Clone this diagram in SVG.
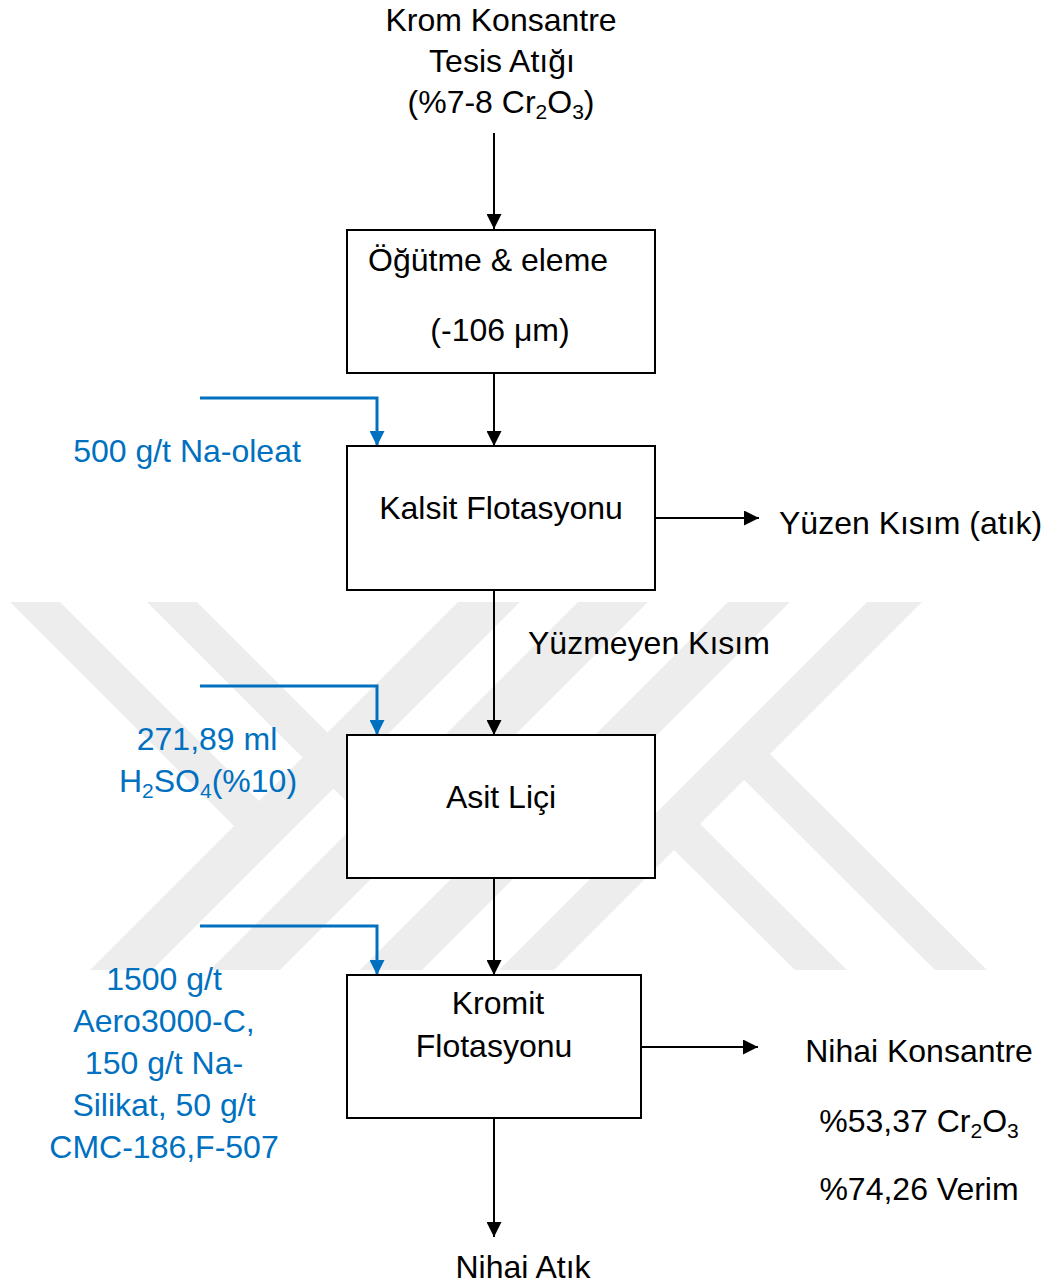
<svg xmlns="http://www.w3.org/2000/svg" width="1048" height="1285" viewBox="0 0 1048 1285">
<style>
.t{font-family:"Liberation Sans",Arial,sans-serif;font-size:32px;fill:#000}
.b{font-family:"Liberation Sans",Arial,sans-serif;font-size:32px;fill:#0070C0}
.sub{font-size:21px}
.box{fill:#fff;stroke:#000;stroke-width:2}
.ln{fill:none;stroke:#000;stroke-width:2}
.bl{fill:none;stroke:#0070C0;stroke-width:3}
.wm{fill:#ededed}
</style>
<defs>
<marker id="ah" viewBox="0 0 16 16" refX="16" refY="8" markerWidth="16" markerHeight="15" markerUnits="userSpaceOnUse" orient="auto">
<path d="M0,0 L16,8 L0,16 z" fill="#000"/>
</marker>
<marker id="ahb" viewBox="0 0 16 16" refX="16" refY="8" markerWidth="16" markerHeight="15" markerUnits="userSpaceOnUse" orient="auto">
<path d="M0,0 L16,8 L0,16 z" fill="#0070C0"/>
</marker>
</defs>
<rect x="0" y="0" width="1048" height="1285" fill="#fff"/>
<g id="watermark" class="wm">
<polygon points="10,602 60,602 274,816 249,841"/>
<polygon points="147,602 197,602 408,813 383,838"/>
<polygon points="458,602 520,602 152,970 90,970"/>
<polygon points="578,602 648,602 280,970 210,970"/>
<polygon points="728,602 790,602 422,970 360,970"/>
<polygon points="867,602 922,602 554,970 499,970"/>
<polygon points="756,740 987,970 935,970 730,766"/>
<polygon points="686,810 847,970 795,970 660,836"/>
</g>
<g id="connectors">
<line class="ln" x1="494" y1="133" x2="494" y2="229" marker-end="url(#ah)"/>
<line class="ln" x1="494" y1="373" x2="494" y2="446" marker-end="url(#ah)"/>
<line class="ln" x1="494" y1="590" x2="494" y2="735" marker-end="url(#ah)"/>
<line class="ln" x1="494" y1="878" x2="494" y2="975" marker-end="url(#ah)"/>
<line class="ln" x1="494" y1="1118" x2="494" y2="1237" marker-end="url(#ah)"/>
<line class="ln" x1="655" y1="518" x2="759" y2="518" marker-end="url(#ah)"/>
<line class="ln" x1="641" y1="1047" x2="758" y2="1047" marker-end="url(#ah)"/>
<polyline class="bl" points="200,398 377,398 377,446" marker-end="url(#ahb)"/>
<polyline class="bl" points="200,686 377,686 377,735" marker-end="url(#ahb)"/>
<polyline class="bl" points="200,926 377,926 377,975" marker-end="url(#ahb)"/>
</g>
<g id="source">
<text class="t" x="501" y="31" text-anchor="middle">Krom Konsantre</text>
<text class="t" x="502" y="72" text-anchor="middle">Tesis Atığı</text>
<text class="t" x="501" y="113" text-anchor="middle">(%7-8 Cr<tspan class="sub" dy="6">2</tspan><tspan dy="-6">O</tspan><tspan class="sub" dy="6">3</tspan><tspan dy="-6">)</tspan></text>
</g>
<g id="ogutme">
<rect class="box" x="347" y="230" width="308" height="143"/>
<text class="t" x="368" y="271">Öğütme &amp; eleme</text>
<text class="t" x="500" y="341" text-anchor="middle">(-106 μm)</text>
</g>
<g id="kalsit">
<rect class="box" x="347" y="446" width="308" height="144"/>
<text class="t" x="501" y="519" text-anchor="middle">Kalsit Flotasyonu</text>
</g>
<g id="asit">
<rect class="box" x="347" y="735" width="308" height="143"/>
<text class="t" x="501" y="808" text-anchor="middle">Asit Liçi</text>
</g>
<g id="kromit">
<rect class="box" x="347" y="975" width="294" height="143"/>
<text class="t" x="498" y="1014" text-anchor="middle">Kromit</text>
<text class="t" x="494" y="1057" text-anchor="middle">Flotasyonu</text>
</g>
<g id="yuzen">
<text class="t" x="779" y="534">Yüzen Kısım (atık)</text>
</g>
<g id="yuzmeyen">
<text class="t" x="528" y="654">Yüzmeyen Kısım</text>
</g>
<g id="nihai-konsantre">
<text class="t" x="919" y="1062" text-anchor="middle">Nihai Konsantre</text>
<text class="t" x="919" y="1132" text-anchor="middle">%53,37 Cr<tspan class="sub" dy="6">2</tspan><tspan dy="-6">O</tspan><tspan class="sub" dy="6">3</tspan></text>
<text class="t" x="919" y="1200" text-anchor="middle">%74,26 Verim</text>
</g>
<g id="nihai-atik">
<text class="t" x="523" y="1278" text-anchor="middle">Nihai Atık</text>
</g>
<g id="reagent-naoleat">
<text class="b" x="187" y="462" text-anchor="middle">500 g/t Na-oleat</text>
</g>
<g id="reagent-h2so4">
<text class="b" x="207" y="750" text-anchor="middle">271,89 ml</text>
<text class="b" x="208" y="792" text-anchor="middle">H<tspan class="sub" dy="6">2</tspan><tspan dy="-6">SO</tspan><tspan class="sub" dy="6">4</tspan><tspan dy="-6">(%10)</tspan></text>
</g>
<g id="reagent-kromit">
<text class="b" x="164" y="990" text-anchor="middle">1500 g/t</text>
<text class="b" x="164" y="1032" text-anchor="middle">Aero3000-C,</text>
<text class="b" x="164" y="1074" text-anchor="middle">150 g/t Na-</text>
<text class="b" x="164" y="1116" text-anchor="middle">Silikat, 50 g/t</text>
<text class="b" x="164" y="1158" text-anchor="middle">CMC-186,F-507</text>
</g>
</svg>
